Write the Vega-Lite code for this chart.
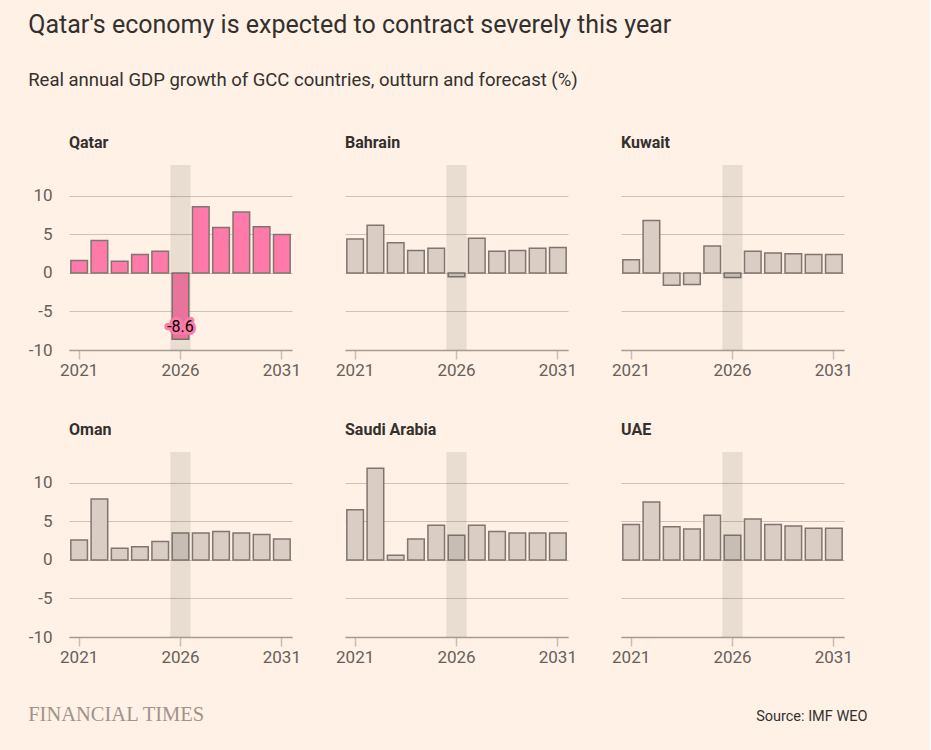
{
  "$schema": "https://vega.github.io/schema/vega-lite/v6.json",
  "background": "#fff1e5",
  "padding": {"left": 28, "top": 12, "right": 62, "bottom": 26},
  "title": {
    "text": "Qatar's economy is expected to contract severely this year",
    "subtitle": "Real annual GDP growth of GCC countries, outturn and forecast (%)",
    "anchor": "start",
    "font": "Roboto",
    "fontSize": 25,
    "fontWeight": "normal",
    "color": "#33302e",
    "subtitleFont": "Roboto",
    "subtitleFontSize": 18.5,
    "subtitleColor": "#33302e",
    "subtitlePadding": 33,
    "offset": 46
  },
  "data": {
    "values": [
      {"country": "Qatar", "year": 2021, "growth": 1.6},
      {"country": "Qatar", "year": 2022, "growth": 4.2},
      {"country": "Qatar", "year": 2023, "growth": 1.5},
      {"country": "Qatar", "year": 2024, "growth": 2.4},
      {"country": "Qatar", "year": 2025, "growth": 2.8},
      {"country": "Qatar", "year": 2026, "growth": -8.6},
      {"country": "Qatar", "year": 2027, "growth": 8.6},
      {"country": "Qatar", "year": 2028, "growth": 5.9},
      {"country": "Qatar", "year": 2029, "growth": 7.9},
      {"country": "Qatar", "year": 2030, "growth": 6.0},
      {"country": "Qatar", "year": 2031, "growth": 5.0},
      {"country": "Bahrain", "year": 2021, "growth": 4.4},
      {"country": "Bahrain", "year": 2022, "growth": 6.2},
      {"country": "Bahrain", "year": 2023, "growth": 3.9},
      {"country": "Bahrain", "year": 2024, "growth": 2.9},
      {"country": "Bahrain", "year": 2025, "growth": 3.2},
      {"country": "Bahrain", "year": 2026, "growth": -0.5},
      {"country": "Bahrain", "year": 2027, "growth": 4.5},
      {"country": "Bahrain", "year": 2028, "growth": 2.8},
      {"country": "Bahrain", "year": 2029, "growth": 2.9},
      {"country": "Bahrain", "year": 2030, "growth": 3.2},
      {"country": "Bahrain", "year": 2031, "growth": 3.3},
      {"country": "Kuwait", "year": 2021, "growth": 1.7},
      {"country": "Kuwait", "year": 2022, "growth": 6.8},
      {"country": "Kuwait", "year": 2023, "growth": -1.6},
      {"country": "Kuwait", "year": 2024, "growth": -1.5},
      {"country": "Kuwait", "year": 2025, "growth": 3.5},
      {"country": "Kuwait", "year": 2026, "growth": -0.6},
      {"country": "Kuwait", "year": 2027, "growth": 2.8},
      {"country": "Kuwait", "year": 2028, "growth": 2.6},
      {"country": "Kuwait", "year": 2029, "growth": 2.5},
      {"country": "Kuwait", "year": 2030, "growth": 2.4},
      {"country": "Kuwait", "year": 2031, "growth": 2.4},
      {"country": "Oman", "year": 2021, "growth": 2.6},
      {"country": "Oman", "year": 2022, "growth": 7.9},
      {"country": "Oman", "year": 2023, "growth": 1.5},
      {"country": "Oman", "year": 2024, "growth": 1.7},
      {"country": "Oman", "year": 2025, "growth": 2.4},
      {"country": "Oman", "year": 2026, "growth": 3.5},
      {"country": "Oman", "year": 2027, "growth": 3.5},
      {"country": "Oman", "year": 2028, "growth": 3.7},
      {"country": "Oman", "year": 2029, "growth": 3.5},
      {"country": "Oman", "year": 2030, "growth": 3.3},
      {"country": "Oman", "year": 2031, "growth": 2.7},
      {"country": "Saudi Arabia", "year": 2021, "growth": 6.5},
      {"country": "Saudi Arabia", "year": 2022, "growth": 11.9},
      {"country": "Saudi Arabia", "year": 2023, "growth": 0.6},
      {"country": "Saudi Arabia", "year": 2024, "growth": 2.7},
      {"country": "Saudi Arabia", "year": 2025, "growth": 4.5},
      {"country": "Saudi Arabia", "year": 2026, "growth": 3.2},
      {"country": "Saudi Arabia", "year": 2027, "growth": 4.5},
      {"country": "Saudi Arabia", "year": 2028, "growth": 3.7},
      {"country": "Saudi Arabia", "year": 2029, "growth": 3.5},
      {"country": "Saudi Arabia", "year": 2030, "growth": 3.5},
      {"country": "Saudi Arabia", "year": 2031, "growth": 3.5},
      {"country": "UAE", "year": 2021, "growth": 4.6},
      {"country": "UAE", "year": 2022, "growth": 7.5},
      {"country": "UAE", "year": 2023, "growth": 4.3},
      {"country": "UAE", "year": 2024, "growth": 4.0},
      {"country": "UAE", "year": 2025, "growth": 5.8},
      {"country": "UAE", "year": 2026, "growth": 3.2},
      {"country": "UAE", "year": 2027, "growth": 5.3},
      {"country": "UAE", "year": 2028, "growth": 4.6},
      {"country": "UAE", "year": 2029, "growth": 4.4},
      {"country": "UAE", "year": 2030, "growth": 4.1},
      {"country": "UAE", "year": 2031, "growth": 4.1}
    ]
  },
  "vconcat": [
    {
      "title": {
        "text": "Source: IMF WEO",
        "orient": "bottom",
        "anchor": "end",
        "font": "Roboto",
        "fontSize": 14.5,
        "fontWeight": "normal",
        "color": "#33302e",
        "offset": -16,
        "dx": 15
      },
      "vconcat": [
        {
          "title": {
            "text": "FINANCIAL TIMES",
            "orient": "bottom",
            "anchor": "start",
            "font": "Liberation Serif",
            "fontSize": 20.5,
            "fontWeight": "normal",
            "color": "#9e948c",
            "offset": 40
          },
          "facet": {
            "field": "country",
            "type": "nominal",
            "sort": ["Qatar", "Bahrain", "Kuwait", "Oman", "Saudi Arabia", "UAE"],
            "header": {"title": null}
          },
          "columns": 3,
          "spacing": {"column": 53, "row": 102},
          "bounds": "flush",
          "resolve": {"axis": {"x": "independent"}},
          "spec": {
            "width": 223,
            "height": 185,
            "layer": [
              {
                "mark": {"type": "bar", "stroke": "#80766f", "strokeWidth": 1.5, "width": {"band": 0.82}},
                "encoding": {
                  "x": {
                    "field": "year",
                    "type": "ordinal",
                    "scale": {"paddingInner": 0, "paddingOuter": 0},
                    "axis": {"values": [2021, 2026, 2031], "labelAngle": 0, "title": null}
                  },
                  "y": {
                    "field": "growth",
                    "type": "quantitative",
                    "scale": {"domain": [-10, 14]},
                    "axis": {
                      "values": [-10, -5, 0, 5, 10],
                      "title": null,
                      "labelExpr": "datum.value < 0 ? '-' + abs(datum.value) : datum.label"
                    }
                  },
                  "color": {
                    "field": "country",
                    "type": "nominal",
                    "scale": {
                      "domain": ["Qatar", "Bahrain", "Kuwait", "Oman", "Saudi Arabia", "UAE"],
                      "range": ["#ff7aa8", "#d9cdc4", "#d9cdc4", "#d9cdc4", "#d9cdc4", "#d9cdc4"]
                    },
                    "legend": null
                  }
                }
              },
              {
                "transform": [{"filter": "datum.year == 2026"}],
                "mark": {"type": "bar", "fill": "#4d4845", "opacity": 0.12},
                "encoding": {
                  "x": {"field": "year", "type": "ordinal"},
                  "y": {"datum": -10, "type": "quantitative"},
                  "y2": {"datum": 14}
                }
              },
              {
                "transform": [{"filter": "datum.country == 'Qatar' && datum.year == 2026"}],
                "mark": {"type": "text", "font": "Roboto", "fontSize": 16, "fill": "#ff7aa8", "stroke": "#ff7aa8", "strokeWidth": 6, "strokeJoin": "round", "dy": -12},
                "encoding": {
                  "x": {"field": "year", "type": "ordinal"},
                  "y": {"field": "growth", "type": "quantitative"},
                  "text": {"field": "growth", "type": "nominal"}
                }
              },
              {
                "transform": [{"filter": "datum.country == 'Qatar' && datum.year == 2026"}],
                "mark": {"type": "text", "font": "Roboto", "fontSize": 16, "fill": "#000000", "dy": -12},
                "encoding": {
                  "x": {"field": "year", "type": "ordinal"},
                  "y": {"field": "growth", "type": "quantitative"},
                  "text": {"field": "growth", "type": "nominal"}
                }
              }
            ]
          }
        }
      ]
    }
  ],
  "config": {
    "view": {"stroke": null},
    "axis": {
      "labelFont": "Roboto",
      "labelFontSize": 17,
      "labelColor": "#66605c",
      "gridColor": "#cec2b9",
      "domain": false,
      "ticks": false
    },
    "axisX": {
      "grid": false,
      "domain": true,
      "domainColor": "#a59b95",
      "domainWidth": 1.5,
      "ticks": true,
      "tickColor": "#c9bdb5",
      "tickSize": 9,
      "tickWidth": 1.5,
      "labelPadding": 3
    },
    "axisY": {"grid": true, "labelPadding": 17},
    "header": {
      "labelFont": "Roboto",
      "labelFontSize": 16,
      "labelFontWeight": "bold",
      "labelColor": "#33302e",
      "labelAnchor": "start",
      "labelPadding": 14
    }
  }
}
